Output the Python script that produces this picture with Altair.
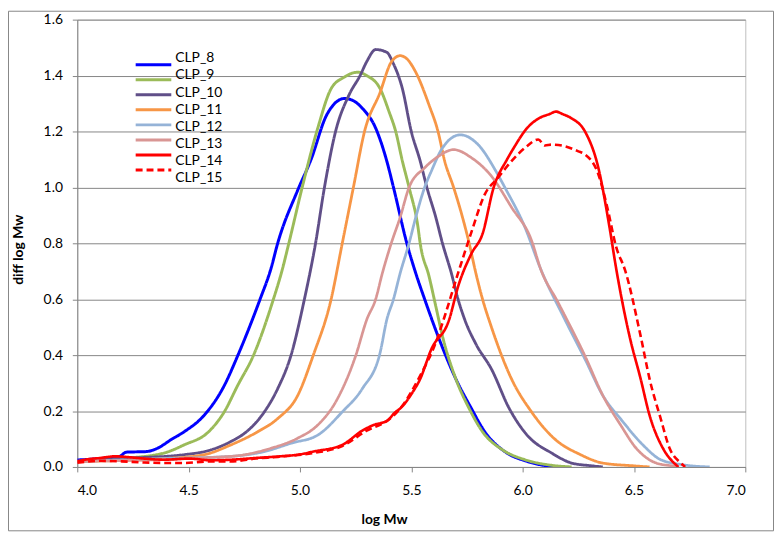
import altair as alt
import pandas as pd

series = ["CLP_8", "CLP_9", "CLP_10", "CLP_11", "CLP_12", "CLP_13", "CLP_14", "CLP_15"]
colors = ["#0000FF", "#9BBB59", "#604F88", "#F79646", "#95B3D7", "#D99694", "#FF0000", "#FF0000"]
dashes = [[1, 0], [1, 0], [1, 0], [1, 0], [1, 0], [1, 0], [1, 0], [7, 4]]
widths = [3, 2.6, 2.6, 2.6, 2.6, 2.6, 3, 3]

x_ticks = [4.0, 4.5, 5.0, 5.5, 6.0, 6.5, 7.0]
y_ticks = [0.0, 0.2, 0.4, 0.6, 0.8, 1.0, 1.2, 1.4, 1.6]

clp8_x = [4.00, 4.10, 4.19, 4.22, 4.31, 4.36, 4.42, 4.48, 4.57, 4.66, 4.72, 4.82, 4.87, 4.90, 4.99, 5.05,
          5.12, 5.20, 5.24, 5.28, 5.34, 5.39, 5.42, 5.48, 5.52, 5.56, 5.62, 5.70, 5.77, 5.83, 5.92, 6.02, 6.13, 6.16]
clp8_y = [0.025, 0.03, 0.038, 0.053, 0.055, 0.067, 0.097, 0.126, 0.185, 0.291, 0.397, 0.598, 0.71, 0.80, 0.99, 1.10,
          1.259, 1.318, 1.31, 1.283, 1.212, 1.094, 1.0, 0.8, 0.693, 0.6, 0.468, 0.315, 0.209, 0.126, 0.055, 0.02, 0.002, 0.0]

clp9_x = [4.00, 4.20, 4.39, 4.48, 4.59, 4.66, 4.72, 4.79, 4.88, 4.92, 4.95, 5.01, 5.08, 5.14, 5.20, 5.26,
          5.30, 5.36, 5.40, 5.43, 5.46, 5.49, 5.53, 5.54, 5.58, 5.61, 5.64, 5.70, 5.76, 5.82, 5.91, 6.01, 6.13, 6.22]
clp9_y = [0.02, 0.03, 0.05, 0.079, 0.126, 0.197, 0.291, 0.397, 0.598, 0.704, 0.80, 1.0, 1.212, 1.353, 1.395, 1.412,
          1.40, 1.353, 1.271, 1.2, 1.094, 1.0, 0.858, 0.8, 0.681, 0.575, 0.468, 0.315, 0.209, 0.126, 0.061, 0.026, 0.006, 0.0]

clp10_x = [4.00, 4.20, 4.48, 4.60, 4.69, 4.76, 4.84, 4.90, 4.96, 5.02, 5.07, 5.11, 5.16, 5.22, 5.27, 5.30,
           5.34, 5.39, 5.42, 5.46, 5.50, 5.54, 5.57, 5.61, 5.64, 5.68, 5.71, 5.74, 5.79, 5.86, 5.94, 6.02, 6.13, 6.22, 6.30, 6.36]
clp10_y = [0.02, 0.03, 0.044, 0.061, 0.091, 0.126, 0.197, 0.28, 0.40, 0.60, 0.80, 1.0, 1.2, 1.33, 1.40, 1.45,
           1.493, 1.483, 1.442, 1.353, 1.2, 1.094, 1.0, 0.893, 0.8, 0.693, 0.6, 0.527, 0.44, 0.35, 0.209, 0.114, 0.05, 0.014, 0.005, 0.0]

clp11_x = [4.00, 4.39, 4.57, 4.69, 4.81, 4.90, 4.99, 5.06, 5.14, 5.19, 5.24, 5.29, 5.36, 5.41, 5.45, 5.48,
           5.52, 5.58, 5.62, 5.65, 5.69, 5.73, 5.76, 5.79, 5.82, 5.86, 5.95, 6.04, 6.14, 6.26, 6.36, 6.50, 6.57]
clp11_y = [0.02, 0.03, 0.044, 0.079, 0.126, 0.173, 0.256, 0.40, 0.60, 0.80, 1.0, 1.2, 1.34, 1.448, 1.471, 1.46,
           1.412, 1.294, 1.2, 1.094, 1.0, 0.893, 0.8, 0.693, 0.6, 0.5, 0.315, 0.197, 0.103, 0.044, 0.014, 0.004, 0.0]

clp12_x = [4.00, 4.39, 4.69, 4.84, 4.96, 5.08, 5.19, 5.28, 5.36, 5.39, 5.42, 5.45, 5.49, 5.52, 5.56, 5.59,
           5.64, 5.72, 5.80, 5.88, 5.92, 6.01, 6.08, 6.19, 6.28, 6.36, 6.45, 6.54, 6.62, 6.72, 6.84]
clp12_y = [0.02, 0.03, 0.038, 0.055, 0.085, 0.114, 0.197, 0.28, 0.409, 0.527, 0.6, 0.693, 0.8, 0.893, 1.0, 1.058,
           1.141, 1.188, 1.153, 1.058, 1.0, 0.858, 0.71, 0.527, 0.386, 0.256, 0.162, 0.079, 0.026, 0.008, 0.0]

clp13_x = [4.00, 4.69, 4.87, 4.99, 5.08, 5.16, 5.25, 5.30, 5.34, 5.37, 5.41, 5.45, 5.49, 5.56, 5.62, 5.69,
           5.77, 5.86, 5.95, 6.04, 6.08, 6.16, 6.28, 6.36, 6.44, 6.51, 6.60, 6.67, 6.70]
clp13_y = [0.02, 0.038, 0.067, 0.103, 0.15, 0.232, 0.397, 0.527, 0.6, 0.693, 0.8, 0.893, 1.0, 1.07, 1.11, 1.135,
           1.106, 1.04, 0.929, 0.81, 0.71, 0.587, 0.397, 0.256, 0.15, 0.067, 0.014, 0.004, 0.0]

clp14_x = [4.00, 4.05, 4.10, 4.17, 4.23, 4.30, 4.39, 4.50, 4.60, 4.69, 4.80, 4.91, 5.00, 5.06, 5.19, 5.28,
           5.33, 5.39, 5.43, 5.45, 5.50, 5.54, 5.59, 5.67, 5.71, 5.77, 5.82, 5.87, 5.93, 5.96, 6.02, 6.08,
           6.12, 6.15, 6.18, 6.22, 6.28, 6.34, 6.39, 6.42, 6.48, 6.53, 6.57, 6.63, 6.68, 6.70]
clp14_y = [0.02, 0.028, 0.032, 0.038, 0.035, 0.03, 0.026, 0.03, 0.024, 0.026, 0.032, 0.038, 0.045, 0.055, 0.079, 0.13,
           0.15, 0.165, 0.197, 0.209, 0.26, 0.315, 0.421, 0.527, 0.645, 0.763, 0.834, 1.0, 1.10, 1.141, 1.212, 1.25,
           1.262, 1.271, 1.262, 1.247, 1.2, 1.07, 0.858, 0.71, 0.468, 0.315, 0.185, 0.067, 0.014, 0.0]

clp15_x = [4.00, 4.10, 4.20, 4.30, 4.47, 4.60, 4.70, 4.80, 4.90, 5.06, 5.19, 5.30, 5.40, 5.45, 5.54, 5.61,
           5.65, 5.71, 5.77, 5.83, 5.89, 5.95, 6.01, 6.07, 6.10, 6.13, 6.19, 6.25, 6.28, 6.34, 6.38, 6.42,
           6.46, 6.53, 6.57, 6.62, 6.66, 6.71, 6.73]
clp15_y = [0.015, 0.022, 0.02, 0.016, 0.014, 0.02, 0.02, 0.03, 0.036, 0.05, 0.075, 0.13, 0.17, 0.209, 0.327, 0.445,
           0.539, 0.693, 0.84, 0.975, 1.035, 1.094, 1.141, 1.171, 1.15, 1.153, 1.147, 1.129, 1.118, 1.047, 0.929, 0.787,
           0.704, 0.468, 0.315, 0.173, 0.067, 0.014, 0.0]

xs = [clp8_x, clp9_x, clp10_x, clp11_x, clp12_x, clp13_x, clp14_x, clp15_x]
ys = [clp8_y, clp9_y, clp10_y, clp11_y, clp12_y, clp13_y, clp14_y, clp15_y]

rows = []
for s, xv, yv in zip(series, xs, ys):
    for i, (a, b) in enumerate(zip(xv, yv)):
        rows.append({"series": s, "x": a, "y": b, "i": i})
df = pd.DataFrame(rows)
legend_df = pd.DataFrame({"series": series})

FONT = "Lato"

color_scale = alt.Scale(domain=series, range=colors)
dash_scale = alt.Scale(domain=series, range=dashes)
width_scale = alt.Scale(domain=series, range=widths)

lines = alt.Chart(df).mark_line(interpolate="monotone", clip=True).encode(
    x=alt.X("x:Q", scale=alt.Scale(domain=[4, 7], nice=False, zero=False),
            axis=alt.Axis(values=x_ticks, format=".1f", grid=False, title="log Mw",
                          tickSize=5, labelPadding=12, titleX=310, titleY=57,
                          titleBaseline="alphabetic", titleAnchor="start", titleAlign="center")),
    y=alt.Y("y:Q", scale=alt.Scale(domain=[0, 1.6], nice=False),
            axis=alt.Axis(values=y_ticks, format=".1f", grid=True, title="diff log Mw",
                          tickSize=5, labelPadding=10, titleX=-55, titleY=232, titleAngle=270,
                          titleBaseline="alphabetic", titleAlign="center")),
    color=alt.Color("series:N", scale=color_scale, sort=series, legend=None),
    strokeDash=alt.StrokeDash("series:N", scale=dash_scale, sort=series, legend=None),
    strokeWidth=alt.StrokeWidth("series:N", scale=width_scale, legend=None),
    order="i:Q",
)

leg_y = alt.Y("series:N", sort=series, axis=None,
              scale=alt.Scale(domain=series, range=[38, 159.5], padding=0))

leg_lines = alt.Chart(legend_df).mark_rule(strokeWidth=3).encode(
    x=alt.value(59), x2=alt.value(95), y=leg_y,
    color=alt.Color("series:N", scale=color_scale, sort=series, legend=None),
    strokeDash=alt.StrokeDash("series:N", scale=dash_scale, sort=series, legend=None),
)

leg_text = alt.Chart(legend_df).mark_text(
    align="left", baseline="middle", font=FONT, fontSize=14, color="black", dy=1
).encode(
    x=alt.value(99), y=leg_y, text="series:N",
)

frame = alt.Chart(pd.DataFrame({"f": [0]})).mark_rect(
    filled=False, stroke="#868686", strokeWidth=1
).encode(
    x=alt.value(-69.5), x2=alt.value(703.5), y=alt.value(-8.5), y2=alt.value(516.5)
)

chart = alt.layer(frame, lines, leg_lines, leg_text).resolve_scale(
    y="independent"
).properties(
    width=675, height=452,
    autosize=alt.AutoSizeParams(type="none"),
    padding={"left": 70, "top": 9, "right": 30, "bottom": 67},
    background="white",
).configure_view(
    stroke="#BFBFBF", strokeWidth=1
).configure_axis(
    domainColor="#868686", gridColor="#868686", tickColor="#868686",
    labelFont=FONT, labelFontSize=14, labelColor="black",
    titleFont=FONT, titleFontSize=14, titleFontWeight="bold", titleColor="black",
    domainWidth=1, gridWidth=1,
)

chart.save("out.html", embed_options={"renderer": "svg", "actions": False})
